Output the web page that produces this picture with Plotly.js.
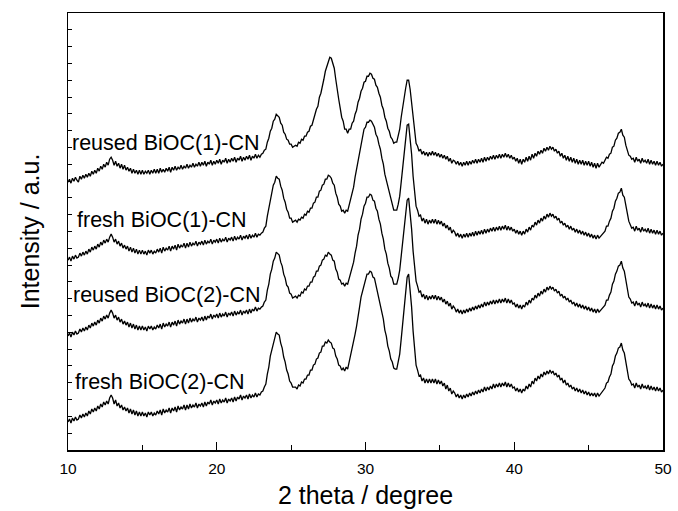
<!DOCTYPE html>
<html>
<head>
<meta charset="utf-8">
<script src="https://cdn.plot.ly/plotly-3.0.1.min.js"></script>
<style>html,body{margin:0;padding:0;background:#fff;}#chart{width:678px;height:511px;}</style>
</head>
<body>
<div id="chart"></div>
<script>
// 2-theta sampling grid (degrees)
const TWO_THETA_START = 10;
const TWO_THETA_STEP = 0.1;

// Offset intensities (arbitrary units), one value per 0.1 degree
const reusedBiOC1 = [
268,271,267,272,269,273,270,268,274,271,275,272,276,273,277,274,279,276,280,277,282,279,284,281,286,283,288,285,291,293,
290,285,289,284,287,282,286,281,285,280,283,279,282,277,281,277,280,276,280,276,
280,276,279,277,280,276,280,277,281,277,
281,277,282,278,281,278,282,279,283,278,
283,280,284,280,283,281,285,281,284,282,
286,282,285,283,287,283,286,284,288,284,
288,285,289,284,288,286,290,285,289,286,
290,287,291,286,290,288,292,287,291,288,
292,289,293,288,292,290,294,289,293,290,
294,291,295,290,294,292,296,292,295,293,
296,297,300,301,308,312,319,322,329,331,336,334,333,327,325,318,316,311,310,306,306,303,304,
305,304,308,307,311,310,314,314,318,319,324,325,331,334,341,344,353,357,366,371,379,384,390,393,
392,386,382,371,363,351,342,333,329,321,321,317,321,321,327,329,336,340,348,352,359,362,368,369,374,374,377,
376,372,371,365,363,357,353,345,341,333,329,322,319,313,311,307,308,308,314,321,333,343,356,362,370,370,
361,348,331,318,307,304,299,301,296,299,295,298,294,298,295,299,295,298,294,297,293,296,292,295,291,294,289,292,287,290,
289,286,289,285,288,284,288,285,289,285,289,286,290,287,291,287,291,288,292,288,293,289,293,290,294,291,295,291,295,292,296,292,296,293,297,293,296,292,295,291,
293,289,292,287,291,286,291,288,293,289,294,290,296,292,297,294,299,296,300,297,302,299,303,300,304,
301,303,299,301,297,299,294,297,292,295,290,294,289,293,288,292,287,291,286,290,286,290,285,289,285,289,284,288,283,287,282,287,283,286,288,287,
290,293,292,296,297,303,304,310,312,317,318,321,315,313,305,300,295,294,291,
292,288,293,289,291,287,292,288,290,287,291,286,290,286,289,285,289,285,288,284,286
];

const freshBiOC1 = [
190,193,189,194,191,195,192,193,197,194,198,195,199,196,201,198,203,200,204,201,206,203,208,205,210,207,211,208,213,216,
213,208,211,206,209,204,207,202,205,201,204,199,203,198,202,197,201,196,200,196,
200,196,199,195,200,197,200,196,199,197,
201,198,202,197,203,199,202,200,204,199,
204,201,205,200,206,202,205,203,207,202,
207,203,208,204,207,205,209,204,208,206,
209,205,210,206,209,207,211,206,210,208,
211,207,212,208,211,209,213,208,212,210,
213,209,214,210,213,211,215,210,214,212,
215,211,216,212,215,213,217,213,216,215,
217,218,222,224,234,241,251,256,265,268,274,272,271,264,260,252,248,241,238,232,232,228,229,
230,228,231,230,233,232,236,235,239,238,242,242,247,248,253,253,259,260,265,266,271,271,275,274,
272,267,265,257,253,246,244,239,240,237,240,239,245,249,258,263,273,281,292,299,309,314,321,323,328,328,330,
329,325,323,316,313,306,301,292,286,276,270,261,256,249,246,240,240,240,246,254,268,283,301,313,325,326,
314,296,274,258,244,240,234,235,229,232,227,231,226,230,227,231,227,231,226,230,226,229,224,227,222,225,220,223,217,220,
218,214,217,213,216,212,216,213,217,213,217,214,218,214,219,215,219,216,220,216,221,217,221,218,222,219,223,219,223,220,224,220,224,221,225,220,224,220,223,219,
221,217,220,216,219,215,219,216,221,218,223,220,225,223,228,225,230,227,232,229,234,231,236,233,237,
234,236,232,234,230,232,227,229,225,227,223,225,221,224,220,222,218,221,217,220,216,219,215,218,214,217,213,216,212,215,211,215,212,214,216,217,
219,224,224,229,232,239,242,249,252,257,258,262,255,253,243,237,229,226,222,
223,219,224,220,222,218,223,219,221,218,222,217,221,217,220,216,220,216,219,215,217
];

const reusedBiOC2 = [
114,117,113,118,115,119,116,117,121,118,122,119,123,120,125,122,127,124,128,125,130,127,132,129,134,131,135,132,137,140,
137,132,135,130,133,128,131,126,129,125,128,123,127,122,126,121,125,120,124,120,
124,120,123,119,124,121,124,120,123,121,
125,122,126,121,127,123,126,124,128,123,
128,125,129,124,130,126,129,127,131,126,
131,127,132,128,131,129,133,128,132,130,
133,129,134,130,134,132,136,131,135,133,
136,132,137,133,136,134,138,133,137,135,
138,134,139,135,138,136,140,135,139,137,
140,136,141,137,141,139,143,139,142,141,
143,144,148,150,160,166,176,181,189,192,198,196,195,188,184,176,172,165,163,157,156,152,153,
154,152,155,154,158,157,161,160,164,164,168,168,173,174,179,179,184,185,190,191,195,194,198,196,
195,190,189,181,178,171,170,166,167,164,167,166,172,175,184,188,197,204,215,221,231,236,244,247,253,253,256,
255,250,249,242,239,231,226,217,211,201,196,187,182,174,172,166,166,166,172,180,194,208,226,238,250,252,
239,221,199,183,169,164,158,159,153,156,151,155,150,154,151,155,151,155,150,154,150,153,148,151,146,149,144,147,141,144,
142,138,141,137,140,136,140,137,141,138,142,139,143,140,144,141,145,142,146,143,148,144,148,145,149,146,150,146,150,147,151,147,151,148,152,147,151,147,150,146,
147,143,146,142,145,141,145,143,148,145,150,147,152,150,155,152,157,154,159,156,161,158,163,160,164,
161,163,159,161,157,159,154,156,152,154,150,152,148,150,146,148,144,147,143,146,142,145,141,144,140,143,139,142,138,141,137,141,138,140,142,143,
145,150,150,155,158,166,169,176,179,184,185,189,182,179,169,161,153,151,147,
148,144,149,145,147,143,148,144,146,143,147,142,146,142,145,141,145,141,144,140,142
];

const freshBiOC2 = [
28,31,27,32,29,33,30,31,35,32,36,33,37,34,39,36,41,38,42,39,44,41,46,43,48,45,49,46,52,55,
52,46,50,44,47,42,45,40,43,39,42,37,41,36,40,35,39,34,38,34,
38,34,37,33,38,35,38,34,37,35,
39,36,40,35,41,37,40,38,42,37,
42,39,43,38,44,40,43,41,45,40,
45,41,46,42,45,43,47,42,46,44,
47,43,48,44,48,46,50,45,49,47,
50,46,51,47,50,48,52,47,51,49,
52,48,53,49,53,51,55,50,54,52,
55,51,56,52,55,53,57,53,56,55,
58,59,63,66,76,83,94,100,109,112,118,116,115,107,102,93,88,80,76,69,67,63,63,
63,61,65,64,68,67,71,71,75,75,80,80,85,86,91,92,97,98,104,104,108,107,110,108,
107,102,101,94,91,85,84,80,82,79,83,81,88,92,101,106,116,124,136,143,153,159,167,170,176,176,179,
178,173,172,165,161,153,147,137,131,120,114,104,99,91,88,82,81,81,87,96,111,127,146,159,173,176,
162,143,119,101,85,80,74,75,69,72,67,71,67,71,67,71,67,71,66,70,66,69,64,67,61,65,59,62,56,59,
57,53,56,52,55,51,55,52,56,53,57,54,58,55,59,56,60,57,61,58,63,59,63,60,64,61,66,62,66,63,67,63,67,64,68,63,67,63,66,62,
63,59,62,58,61,57,61,59,64,61,66,63,69,66,72,69,74,71,76,73,78,75,79,76,80,
77,79,75,77,73,75,70,72,67,70,65,67,63,65,61,63,59,62,58,61,57,60,56,59,55,58,54,57,54,57,53,57,54,56,58,60,
62,67,68,73,76,84,87,94,97,102,103,107,100,97,87,79,71,69,65,
66,62,67,63,65,61,66,62,64,61,65,60,64,60,63,59,63,59,62,58,60
];

const seriesNames = ['reused BiOC(1)-CN', 'fresh BiOC(1)-CN', 'reused BiOC(2)-CN', 'fresh BiOC(2)-CN'];
const seriesValues = [reusedBiOC1, freshBiOC1, reusedBiOC2, freshBiOC2];
const xTickValues = [10, 20, 30, 40, 50];
const xTickLabels = ['10', '20', '30', '40', '50'];

const FONT = 'Liberation Sans, Arial, Helvetica, sans-serif';

const traces = seriesValues.map((vals, k) => ({
  type: 'scatter',
  mode: 'lines',
  name: seriesNames[k],
  x: vals.map((_, i) => +(TWO_THETA_START + i * TWO_THETA_STEP).toFixed(2)),
  y: vals,
  line: {color: '#000', width: 1.3},
  hoverinfo: 'skip'
}));

// label placement (style, not data)
const labelPos = [
  {x: 10.12, y: 307},
  {x: 10.45, y: 230},
  {x: 10.22, y: 155},
  {x: 10.32, y: 68}
];

const annotations = seriesNames.map((t, k) => ({
  text: t, x: labelPos[k].x, y: labelPos[k].y, xref: 'x', yref: 'y',
  xanchor: 'left', yanchor: 'middle', showarrow: false,
  font: {family: FONT, size: 21.5, color: '#000'}
}));

const layout = {
  width: 678, height: 511,
  margin: {l: 68, r: 15, t: 13, b: 61, pad: 0},
  paper_bgcolor: '#fff', plot_bgcolor: '#fff',
  showlegend: false,
  font: {family: FONT, color: '#000'},
  xaxis: {
    range: [10, 50], tickmode: 'array', tickvals: xTickValues, ticktext: xTickLabels,
    ticks: 'inside', ticklen: 8, tickwidth: 1, tickcolor: '#000',
    showline: true, linecolor: '#000', linewidth: 1.5, mirror: true,
    showgrid: false, zeroline: false,
    tickfont: {family: FONT, size: 15.5, color: '#000'},
    ticklabelstandoff: 4,
    minor: {dtick: 5, tick0: 0, ticks: 'inside', ticklen: 5, tickwidth: 1, tickcolor: '#000', showgrid: false},
    title: {text: '2 theta / degree', font: {family: FONT, size: 25, color: '#000'}, standoff: 10}
  },
  yaxis: {
    range: [0, 437.3], tick0: 0, dtick: 16.82,
    ticks: 'inside', ticklen: 4, tickwidth: 1, tickcolor: '#000',
    showticklabels: false,
    showline: true, linecolor: '#000', linewidth: 1.5, mirror: true,
    showgrid: false, zeroline: false,
    title: {text: 'Intensity / a.u.', font: {family: FONT, size: 25, color: '#000'}, standoff: 20}
  },
  annotations: annotations
};

Plotly.newPlot('chart', traces, layout, {displayModeBar: false, staticPlot: true});
</script>
</body>
</html>
